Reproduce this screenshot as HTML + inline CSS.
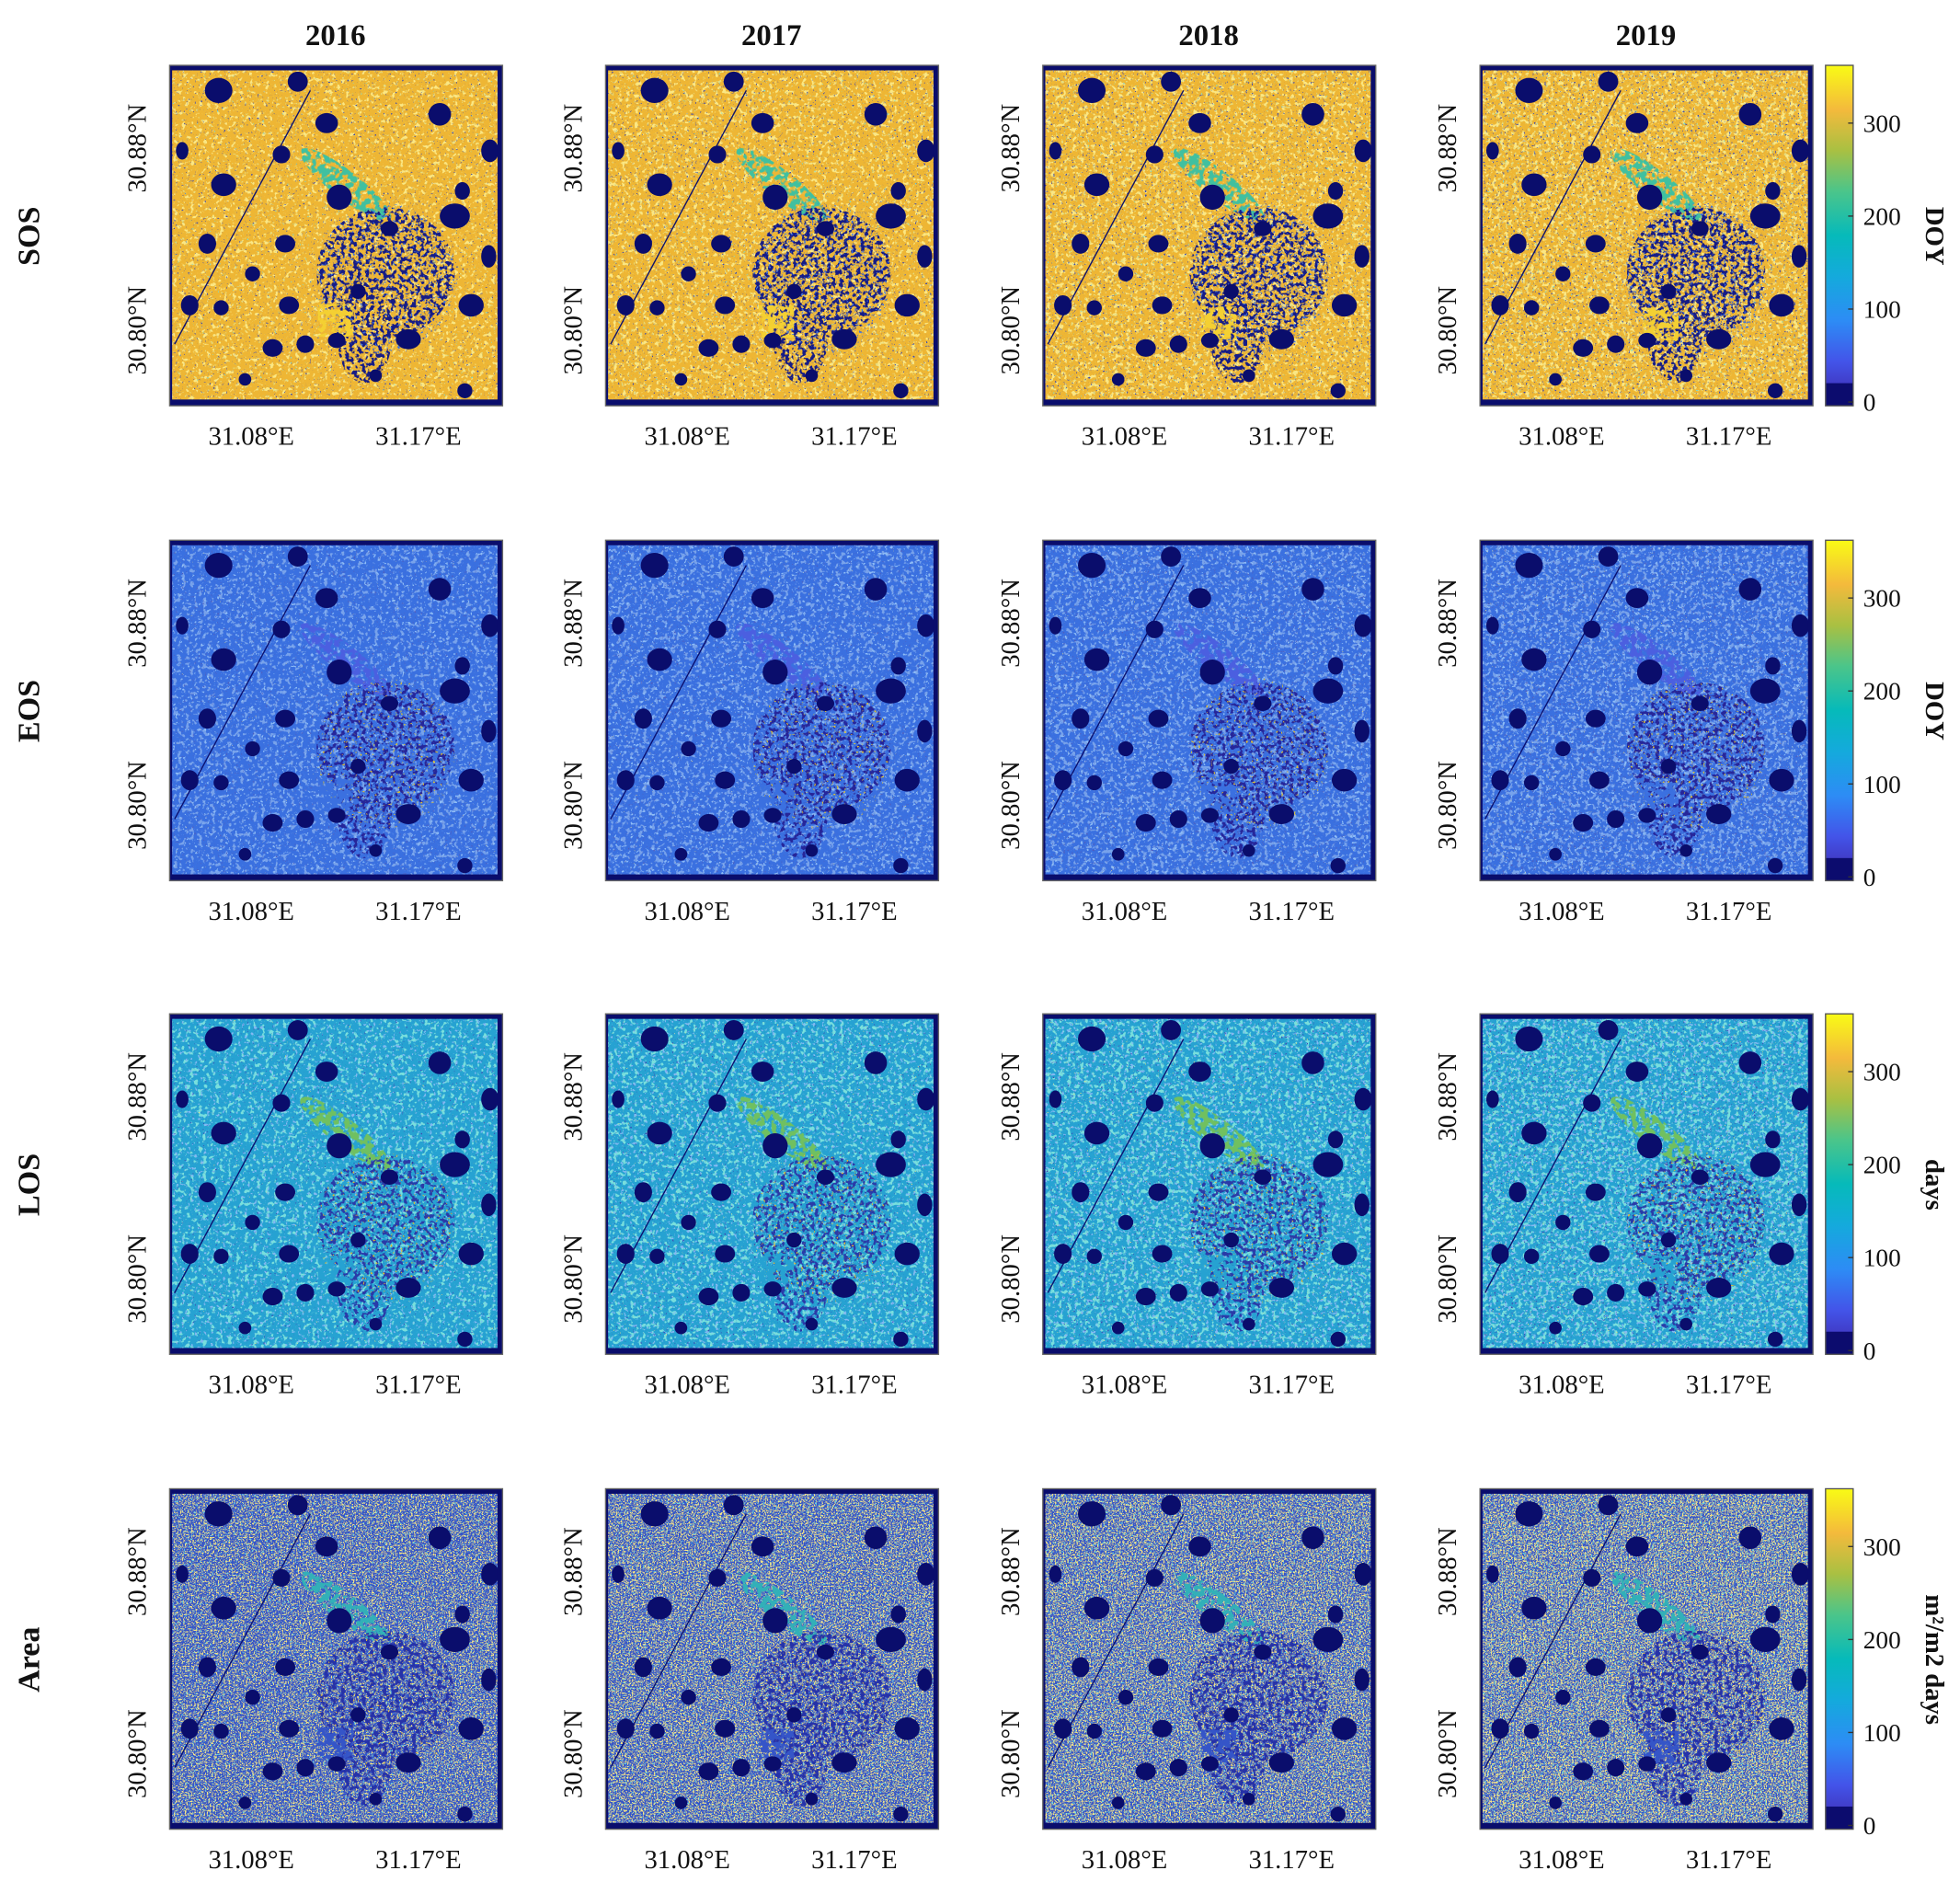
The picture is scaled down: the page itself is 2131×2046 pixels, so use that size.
<!DOCTYPE html>
<html><head><meta charset="utf-8"><style>
html,body{margin:0;padding:0;background:#fff;width:2131px;height:2046px;overflow:hidden}
#wrap{width:1560px;height:1498px;transform:scale(1.3660,1.3658);transform-origin:0 0}
text{font-family:"Liberation Serif",serif;fill:#111}
</style></head><body><div id="wrap"><svg id="s" width="1560" height="1498" xmlns="http://www.w3.org/2000/svg"></svg></div>
<script>
const cols=[135,482,830,1178], rowsY=[52,430,807,1185], W=265,H=271;
const years=['2016','2017','2018','2019'];
const rows=[
 {n:'SOS',u:'DOY',base:'#eeb634',sp:[['#f6cc3a',.3,.6],['#c8b838',.4,.68],['#0c1270',.6,.7],['#2fb8b0',.5,.76]],cen:'#141c86',ct:.5,cen2:'#3a70e0',c2t:.64,green:'#40c0a0'},
 {n:'EOS',u:'DOY',base:'#3a70e0',sp:[['#2f5cd4',.3,.58],['#4682ec',.4,.66],['#141c80',.6,.7],['#e8c234',.7,.8]],cen:'#28289a',ct:.52,cen2:'#e0c030',c2t:.68,green:'#4c5ee0'},
 {n:'LOS',u:'days',base:'#26a2d2',sp:[['#30bcb8',.3,.58],['#3a7ce2',.4,.64],['#0c1270',.6,.72],['#e8c234',.6,.77]],cen:'#2a3aa8',ct:.52,cen2:'#e0b830',c2t:.68,green:'#70c060'},
 {n:'Area',u:'m²/m2 days',base:'#3454c8',sp:[['#eac43a',.8,.55],['#f4d040',.9,.62],['#20a8c8',.7,.64],['#16208a',.6,.68]],cen:'#2830a8',ct:.5,cen2:'#e8c038',c2t:.7,green:'#30b0b8'}
];
const blobs=[[39,20,11,10],[102,13,8,8],[125,46,9,8],[215,39,9,9],[255,68,7,9],[10,68,5,7],[89,71,7,7],[43,95,10,9],[135,105,10,10],[233,100,6,7],[227,120,12,10],[30,142,7,8],[92,142,8,7],[254,152,6,9],[66,166,6,6],[16,191,7,8],[41,193,6,6],[95,191,8,7],[240,191,10,9],[82,225,8,7],[108,222,7,7],[133,219,7,6],[190,218,10,8],[235,259,6,6],[164,247,5,5],[150,180,6,6],[175,130,7,6],[60,250,5,5]];
let d='<defs><linearGradient id="cb" x1="0" y1="1" x2="0" y2="0"><stop offset="0" stop-color="#3e26a8"/><stop offset=".13" stop-color="#4354e9"/><stop offset=".25" stop-color="#2d8cf5"/><stop offset=".38" stop-color="#14aadc"/><stop offset=".5" stop-color="#06baba"/><stop offset=".63" stop-color="#4bc58a"/><stop offset=".75" stop-color="#a9c042"/><stop offset=".87" stop-color="#f4ba3c"/><stop offset="1" stop-color="#f9fb15"/></linearGradient>';
function hex(c){return [1,3,5].map(i=>parseInt(c.substr(i,2),16)/255)}
let fid=0,body='';
function noiseFilter(color,freq,t,seed){const [r,g,b]=hex(color);const id='f'+(fid++);
 d+=`<filter id="${id}" x="0" y="0" width="1" height="1"><feTurbulence type="fractalNoise" baseFrequency="${freq}" numOctaves="2" seed="${seed}"/><feColorMatrix type="matrix" values="0 0 0 0 ${r} 0 0 0 0 ${g} 0 0 0 0 ${b} 12 0 0 0 ${-12*t}"/></filter>`;return id}
function maskFilter(freq,t,seed){const id='f'+(fid++);
 d+=`<filter id="${id}" x="0" y="0" width="1" height="1"><feTurbulence type="fractalNoise" baseFrequency="${freq}" numOctaves="2" seed="${seed}" result="t"/><feColorMatrix in="t" type="matrix" values="0 0 0 0 0 0 0 0 0 0 0 0 0 0 0 12 0 0 0 ${-12*t}" result="a"/><feComposite in="SourceGraphic" in2="a" operator="in"/></filter>`;return id}
rows.forEach((R,ri)=>{const y=rowsY[ri];
 cols.forEach((x,ci)=>{let g=`<g transform="translate(${x},${y})"><rect width="${W}" height="${H}" fill="${R.base}"/>`;
  R.sp.forEach((s,si)=>{const id=noiseFilter(s[0],s[1],s[2]-ci*0.01,ri*40+ci*7+si+1);g+=`<rect width="${W}" height="${H}" filter="url(#${id})"/>`;});
  const m1=maskFilter(.3,R.ct,ri*9+ci+3),m2=maskFilter(.5,R.c2t,ri*9+ci+50),m3=maskFilter(.2,.45,ri*9+ci+80);
  g+=`<ellipse cx="140" cy="95" rx="45" ry="11" transform="rotate(38 140 95)" fill="${R.green}" filter="url(#${m3})"/>`;
  g+=`<ellipse cx="172" cy="165" rx="55" ry="52" fill="${R.cen}" filter="url(#${m1})"/><ellipse cx="155" cy="215" rx="22" ry="38" fill="${R.cen}" filter="url(#${m1})"/>`;
  g+=`<ellipse cx="172" cy="170" rx="55" ry="60" fill="${R.cen2}" filter="url(#${m2})"/>`;
  g+=`<rect x="${118+ci*4}" y="${190+ci}" width="28" height="26" fill="${ri==0?'#f4d030':R.base}" filter="url(#${m3})"/>`;
  g+=`<line x1="4" y1="222" x2="112" y2="20" stroke="#0a0f6e" stroke-width="1"/>`;
  blobs.forEach(b=>{g+=`<ellipse cx="${b[0]}" cy="${b[1]}" rx="${b[2]}" ry="${b[3]}" fill="#0a0d6c"/>`;});
  g+=`<rect width="${W}" height="4" fill="#0a0d6c"/><rect y="${H-5}" width="${W}" height="5" fill="#0a0d6c"/><rect x="${W-4}" width="4" height="${H}" fill="#0a0d6c"/><rect width="2" height="${H}" fill="#0a0d6c"/><rect width="${W}" height="${H}" fill="none" stroke="#666" stroke-width="1"/></g>`;
  g+=`<text font-size="21" text-anchor="middle" transform="translate(${x-19},${y+66}) rotate(-90)">30.88°N</text><text font-size="21" text-anchor="middle" transform="translate(${x-19},${y+211}) rotate(-90)">30.80°N</text>`;
  g+=`<text font-size="21" text-anchor="middle" x="${x+65}" y="${y+H+31}">31.08°E</text><text font-size="21" text-anchor="middle" x="${x+198}" y="${y+H+31}">31.17°E</text>`;
  body+=g;});
 body+=`<text font-size="25" font-weight="bold" text-anchor="middle" transform="translate(31,${y+136}) rotate(-90)">${R.n}</text>`;
 const cx=1453,bot=y+H;
 body+=`<rect x="${cx}" y="${y}" width="22" height="${H}" fill="url(#cb)"/><rect x="${cx}" y="${bot-18}" width="22" height="18" fill="#0c0c6e"/><rect x="${cx}" y="${y}" width="22" height="${H}" fill="none" stroke="#555" stroke-width="1"/>`;
 [0,100,200,300].forEach(v=>{const ty=bot-3-v*0.74;body+=`<line x1="${cx+18}" y1="${ty}" x2="${cx+22}" y2="${ty}" stroke="#333"/><text font-size="20" x="${cx+30}" y="${ty+7}">${v}</text>`;});
 body+=`<text font-size="21" font-weight="bold" text-anchor="middle" transform="translate(1533,${y+136}) rotate(90)">${R.u}</text>`;
});
years.forEach((t,i)=>{body+=`<text font-size="24" font-weight="bold" text-anchor="middle" x="${cols[i]+132}" y="36">${t}</text>`;});
d+='</defs>';
document.getElementById('s').innerHTML=d+body;
</script></body></html>
